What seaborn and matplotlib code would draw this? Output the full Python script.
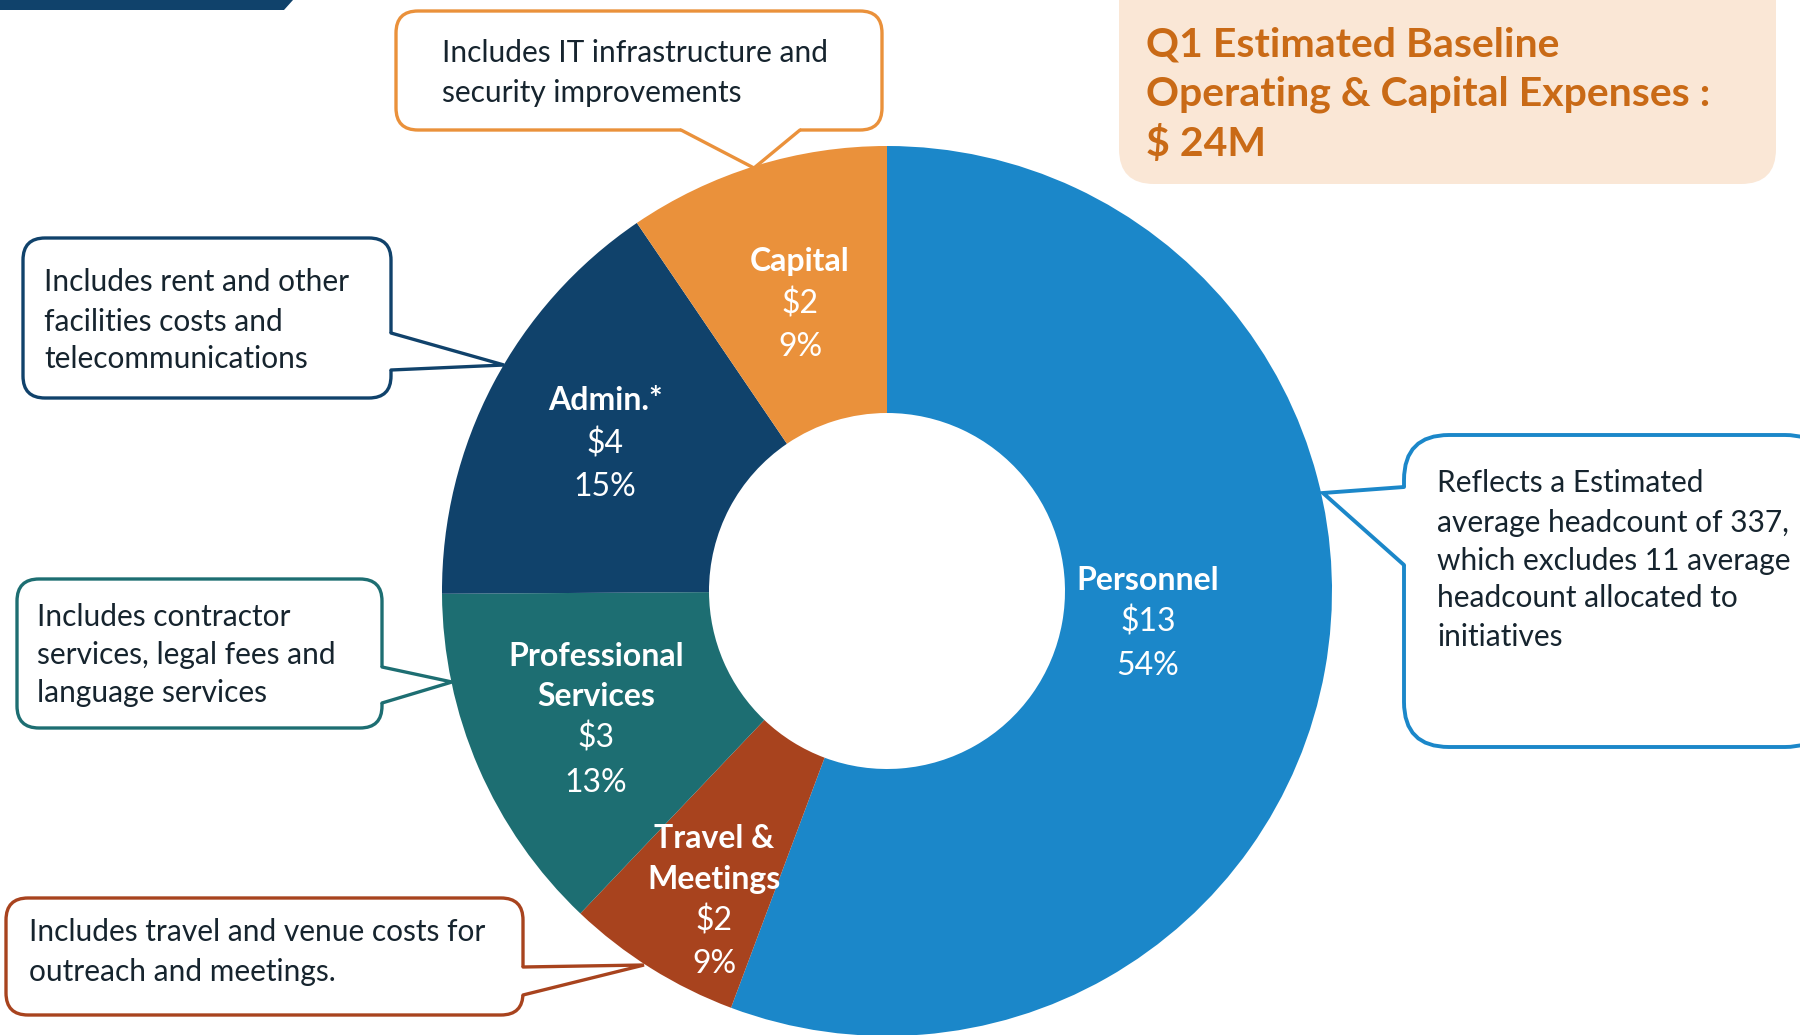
import numpy as np
import pandas as pd
import seaborn as sns
import matplotlib.pyplot as plt
from matplotlib.patches import FancyBboxPatch, Polygon

# slices, clockwise from 12 o'clock
categories = ["Personnel", "Travel &\nMeetings", "Professional\nServices", "Admin.*", "Capital"]
dollars = ["$13", "$2", "$3", "$4", "$2"]
pct_labels = ["54%", "9%", "13%", "15%", "9%"]
# share of the ring as drawn in the picture (%)
shares = [55.7, 6.4, 12.8, 15.6, 9.5]
colors = ["#1B87C9", "#A8431E", "#1D6E72", "#10426B", "#EA913B"]

title_lines = ["Q1 Estimated Baseline", "Operating & Capital Expenses :", "$ 24M"]

notes = {
    "Personnel": ["Reflects a Estimated", "average headcount of 337,",
                  "which excludes 11 average", "headcount allocated to", "initiatives"],
    "Travel": ["Includes travel and venue costs for", "outreach and meetings."],
    "Professional": ["Includes contractor", "services, legal fees and", "language services"],
    "Admin": ["Includes rent and other", "facilities costs and", "telecommunications"],
    "Capital": ["Includes IT infrastructure and", "security improvements"],
}

W, H = 1800, 1035
sns.set_theme(style="white")
plt.rcParams['font.family'] = ['Lato', 'DejaVu Sans']
TXT = "#16242e"

df = pd.DataFrame({"cat": categories, "share": shares, "color": colors,
                   "usd": dollars, "pct": pct_labels})

fig = plt.figure(figsize=(18, 10.35), dpi=100)
ax = fig.add_axes([0, 0, 1, 1])

cx, cy, R, r_in = 887, 591, 445, 178
# y axis is flipped (pixel coords), so counterclock in data = clockwise on screen
ax.pie(df["share"], colors=df["color"], startangle=-90, counterclock=True,
       center=(cx, cy), radius=R,
       wedgeprops=dict(width=R - r_in, linewidth=0))
ax.set_xlim(0, W)
ax.set_ylim(H, 0)
ax.set_aspect('equal')
ax.axis('off')

# labels inside the ring
label_pos = {
    "Personnel": (1148, [580, 622, 666]),
    "Travel &\nMeetings": (714, [839, 879, 921, 964]),
    "Professional\nServices": (596, [657, 697, 738, 783]),
    "Admin.*": (605, [401, 444, 487]),
    "Capital": (800, [261, 304, 347]),
}
for _, row in df.iterrows():
    x, ys = label_pos[row["cat"]]
    names = row["cat"].split("\n")
    lines = [(n, "bold") for n in names] + [(row["usd"], "normal"), (row["pct"], "normal")]
    for (t, w), yy in zip(lines, ys):
        ax.text(x, yy, t, color="white", fontsize=23, fontweight=w,
                ha="center", va="center", zorder=5)

# top-left band
ax.add_patch(Polygon([(0, 0), (293, 0), (284, 10), (0, 10)], closed=True,
                     facecolor="#10426B", edgecolor="none", zorder=4))

# title box
ax.add_patch(FancyBboxPatch((1119 + 35, -40 + 35), 657 - 70, 224 - 70,
                            boxstyle="round,pad=35", facecolor="#FAE7D6",
                            edgecolor="none", zorder=2))
for t, yy in zip(title_lines, [45, 94, 144]):
    ax.text(1146, yy, t, color="#C96A16", fontsize=29.5, fontweight="bold",
            ha="left", va="center", zorder=5)


def callout(x0, y0, x1, y1, color, base, tip, inner, lines, tx, tys, rad=22, lw=2.4):
    ax.add_patch(FancyBboxPatch((x0 + rad, y0 + rad), x1 - x0 - 2 * rad, y1 - y0 - 2 * rad,
                                boxstyle=f"round,pad={rad}", facecolor="white",
                                edgecolor=color, linewidth=lw, zorder=6))
    b1, b2 = base
    ax.add_patch(Polygon([inner[0], b1, tip, b2, inner[1]], closed=True,
                         facecolor="white", edgecolor="none", zorder=7))
    ax.plot([b1[0], tip[0], b2[0]], [b1[1], tip[1], b2[1]], color=color,
            linewidth=lw, solid_joinstyle="miter", zorder=8)
    for t, yy in zip(lines, tys):
        ax.text(tx, yy, t, color=TXT, fontsize=21.5, ha="left", va="center", zorder=9)


callout(396, 11, 882, 130, "#EA913B",
        [(681, 130), (800, 130)], (754, 168), [(681, 122), (800, 122)],
        notes["Capital"], 442, [53, 93])
callout(23, 238, 391, 398, "#10426B",
        [(391, 333), (391, 370)], (504, 365), [(383, 333), (383, 370)],
        notes["Admin"], 44, [282, 322, 359])
callout(17, 579, 382, 728, "#1D6E72",
        [(382, 667), (382, 703)], (452, 682), [(374, 667), (374, 703)],
        notes["Professional"], 37, [617, 655, 693])
callout(6, 898, 523, 1015, "#A8431E",
        [(523, 967), (523, 995)], (644, 965), [(515, 967), (515, 995)],
        notes["Travel"], 29, [932, 972])
callout(1404, 435, 1830, 747, "#1B87C9",
        [(1404, 487), (1404, 565)], (1323, 493), [(1412, 487), (1412, 565)],
        notes["Personnel"], 1437, [483, 523, 561, 598, 637], rad=45, lw=2.8)

fig.savefig("out.png", dpi=100)
